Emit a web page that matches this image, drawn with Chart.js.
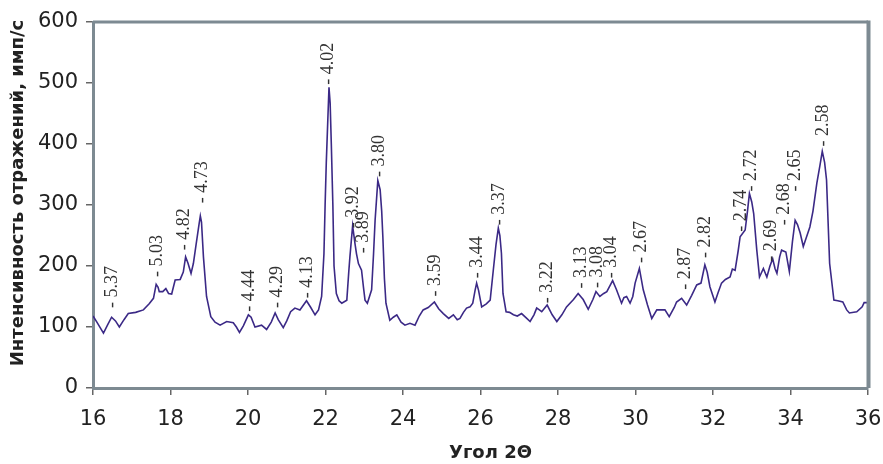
<!DOCTYPE html>
<html>
<head>
<meta charset="utf-8">
<script src="https://cdn.jsdelivr.net/npm/chart.js@4/dist/chart.umd.min.js"></script>
<style>
    html, body { margin: 0; padding: 0; background: #fff; }
    #wrap { width: 883px; height: 464px; }
</style>
</head>
<body>
<div id="wrap"><canvas id="xrd"></canvas></div>
<script>
// 2θ, degrees
const twoTheta = [
    16.00, 16.10, 16.27, 16.38, 16.48, 16.58, 16.68, 16.80, 16.91, 17.10,
    17.30, 17.45, 17.56, 17.63, 17.68, 17.71, 17.80, 17.88, 17.95, 18.03,
    18.12, 18.25, 18.33, 18.39, 18.45, 18.53, 18.59, 18.66, 18.74, 18.77,
    18.80, 18.85, 18.93, 19.04, 19.15, 19.28, 19.45, 19.62, 19.70, 19.78,
    19.88, 20.01, 20.08, 20.18, 20.35, 20.48, 20.60, 20.70, 20.78, 20.91,
    21.00, 21.10, 21.21, 21.34, 21.51, 21.62, 21.73, 21.82, 21.90, 21.96,
    21.99, 22.02, 22.06, 22.09, 22.12, 22.15, 22.19, 22.22, 22.28, 22.35,
    22.42, 22.55, 22.60, 22.63, 22.70, 22.76, 22.80, 22.85, 22.93, 22.98,
    23.02, 23.08, 23.19, 23.24, 23.28, 23.35, 23.41, 23.45, 23.48, 23.52,
    23.56, 23.66, 23.75, 23.84, 23.95, 24.05, 24.18, 24.31, 24.42, 24.52,
    24.65, 24.81, 24.92, 25.04, 25.18, 25.30, 25.40, 25.47, 25.56, 25.64,
    25.73, 25.80, 25.86, 25.90, 25.95, 26.03, 26.15, 26.25, 26.33, 26.40,
    26.46, 26.50, 26.54, 26.58, 26.66, 26.75, 26.85, 26.95, 27.06, 27.18,
    27.28, 27.38, 27.45, 27.52, 27.58, 27.72, 27.85, 27.97, 28.10, 28.22,
    28.40, 28.52, 28.65, 28.78, 28.90, 28.98, 29.08, 29.18, 29.26, 29.41,
    29.51, 29.64, 29.70, 29.77, 29.86, 29.93, 29.99, 30.10, 30.20, 30.31,
    30.42, 30.55, 30.70, 30.76, 30.87, 31.00, 31.06, 31.19, 31.32, 31.45,
    31.58, 31.69, 31.79, 31.85, 31.92, 32.05, 32.13, 32.22, 32.32, 32.44,
    32.50, 32.57, 32.65, 32.70, 32.83, 32.89, 32.94, 33.00, 33.05, 33.13,
    33.20, 33.30, 33.39, 33.47, 33.54, 33.60, 33.65, 33.72, 33.77, 33.88,
    33.97, 34.05, 34.12, 34.18, 34.25, 34.33, 34.40, 34.50, 34.58, 34.68,
    34.76, 34.82, 34.88, 34.93, 35.01, 35.12, 35.22, 35.35, 35.45, 35.52,
    35.71, 35.85, 35.90, 36.00
];

// intensity, counts/s
const intensity = [
    118, 108,  90, 104, 116, 110, 100, 112, 122, 124,
    128, 138, 147, 170, 165, 158, 158, 163, 155, 154,
    177, 178, 190, 215, 205, 188, 204, 235, 270, 282,
    272, 215, 150, 117, 108, 103, 109, 107, 100,  91,
    102, 120, 116, 100, 103,  96, 108, 123, 112,  99,
    110, 125, 131, 128, 143, 132, 120, 128, 150, 220,
    300, 369, 440, 493, 467, 400, 300, 200, 155, 143,
    139, 144, 190, 215, 266, 237, 220, 204, 193, 165,
    144, 139, 161, 220, 275, 340, 325, 290, 248, 180,
    139, 111, 116, 120, 108, 103, 106, 103, 118, 128,
    132, 141, 130, 122, 114, 120, 112, 114, 124, 131,
    133, 139, 160, 172, 160, 133, 138, 144, 193, 235,
    262, 250, 221, 155, 125, 124, 120, 118, 122, 115,
    109, 120, 131, 128, 125, 136, 120, 109, 120, 133,
    145, 155, 145, 129, 145, 158, 150, 155, 158, 176,
    161, 139, 148, 150, 139, 150, 172, 196, 161, 136,
    114, 128, 128, 128, 117, 132, 141, 147, 136, 152,
    169, 172, 202, 190, 166, 141, 156, 172, 178, 182,
    195, 193, 225, 248, 259, 290, 319, 305, 286, 226,
    182, 196, 182, 200, 212, 196, 188, 215, 226, 223,
    191, 240, 275, 268, 254, 232, 245, 264, 290, 336,
    365, 388, 370, 341, 204, 144, 143, 141, 128, 123,
    125, 133, 140, 140
];

// d-spacing labels over the peaks
const peakLabels = ['5.37', '5.03', '4.82', '4.73', '4.44', '4.29', '4.13', '4.02', '3.92', '3.89',
                    '3.80', '3.59', '3.44', '3.37', '3.22', '3.13', '3.08', '3.04', '2.67', '2.87',
                    '2.82', '2.74', '2.72', '2.69', '2.68', '2.65', '2.58'];
const peakX = [16.48, 17.64, 18.33, 18.80, 20.01, 20.74, 21.51, 22.04, 22.68, 22.96,
               23.37, 24.80, 25.90, 26.46, 27.71, 28.57, 29.00, 29.35, 30.12, 31.25,
               31.77, 32.70, 32.97, 33.49, 33.82, 34.09, 34.82];
const peakY = [131, 182, 226, 303, 125, 131, 147, 497, 262, 221,
               346, 150, 180, 267, 139, 163, 164, 180, 205, 161,
               213, 256, 322, 207, 267, 322, 396];

const xTicks = [16, 18, 20, 22, 24, 26, 28, 30, 32, 34, 36];
const yTicks = [0, 100, 200, 300, 400, 500, 600];

const xTitle = 'Угол 2Θ';
const yTitle = 'Интенсивность отражений, имп/с';

const frameColor = '#7d8a92';
const lineColor = '#3b2986';

const points = twoTheta.map((x, i) => ({ x: x, y: intensity[i] }));

// top and right sides of the plot frame
const framePlugin = {
    id: 'frame',
    afterDraw(chart) {
        const { ctx, chartArea: a } = chart;
        ctx.save();
        ctx.strokeStyle = frameColor;
        ctx.lineWidth = 3;
        ctx.beginPath();
        ctx.moveTo(a.left, a.top);
        ctx.lineTo(a.right, a.top);
        ctx.stroke();
        ctx.lineWidth = 4;
        ctx.beginPath();
        ctx.moveTo(a.right + 0.5, a.top - 1.5);
        ctx.lineTo(a.right + 0.5, a.bottom);
        ctx.stroke();
        ctx.restore();
    }
};

// rotated d-spacing labels + axis titles
const textPlugin = {
    id: 'texts',
    afterDatasetsDraw(chart) {
        const { ctx, scales, chartArea: a } = chart;
        ctx.save();
        ctx.font = '18px "Liberation Serif", "Times New Roman", serif';
        ctx.fillStyle = '#333';
        ctx.textAlign = 'left';
        ctx.textBaseline = 'middle';
        peakLabels.forEach((txt, i) => {
            const px = scales.x.getPixelForValue(peakX[i]);
            const py = scales.y.getPixelForValue(peakY[i]);
            ctx.save();
            ctx.translate(px, py);
            ctx.rotate(-Math.PI / 2);
            ctx.fillText('- ' + txt, 0, 1);
            ctx.restore();
        });

        ctx.font = 'bold 18px "DejaVu Sans", sans-serif';
        ctx.fillStyle = '#222';
        ctx.textAlign = 'center';
        ctx.textBaseline = 'middle';
        ctx.fillText(xTitle, (a.left + a.right) / 2 + 10, a.bottom + 65);

        ctx.save();
        ctx.translate(18, (a.top + a.bottom) / 2 - 12);
        ctx.rotate(-Math.PI / 2);
        ctx.fillText(yTitle, 0, 0);
        ctx.restore();
        ctx.restore();
    }
};

const tickFont = { family: '"DejaVu Sans", sans-serif', size: 21 };

new Chart(document.getElementById('xrd'), {
    type: 'scatter',
    data: {
        datasets: [{
            data: points,
            showLine: true,
            borderColor: lineColor,
            borderWidth: 1.6,
            pointRadius: 0,
            tension: 0
        }]
    },
    options: {
        responsive: true,
        maintainAspectRatio: false,
        animation: false,
        events: [],
        layout: { padding: { left: 0, right: 15, top: 22, bottom: 0 } },
        plugins: { legend: { display: false }, tooltip: { enabled: false } },
        scales: {
            x: {
                type: 'linear',
                min: 16,
                max: 36,
                afterBuildTicks: (s) => { s.ticks = xTicks.map(v => ({ value: v })); },
                afterFit: (s) => { s.height = 76; s.paddingLeft = 0; s.paddingRight = 0; },
                ticks: { font: tickFont, color: '#222', padding: 12, maxRotation: 0 },
                grid: { drawOnChartArea: false, tickLength: 7, color: '#666', lineWidth: 1.5 },
                border: { color: frameColor, width: 3 }
            },
            y: {
                min: 0,
                max: 600,
                afterBuildTicks: (s) => { s.ticks = yTicks.map(v => ({ value: v })); },
                afterFit: (s) => { s.width = 93; s.paddingTop = 0; s.paddingBottom = 0; },
                ticks: { font: tickFont, color: '#222', padding: 8 },
                grid: { drawOnChartArea: false, tickLength: 7, color: '#666', lineWidth: 1.5 },
                border: { color: frameColor, width: 3 }
            }
        }
    },
    plugins: [framePlugin, textPlugin]
});
</script>
</body>
</html>
